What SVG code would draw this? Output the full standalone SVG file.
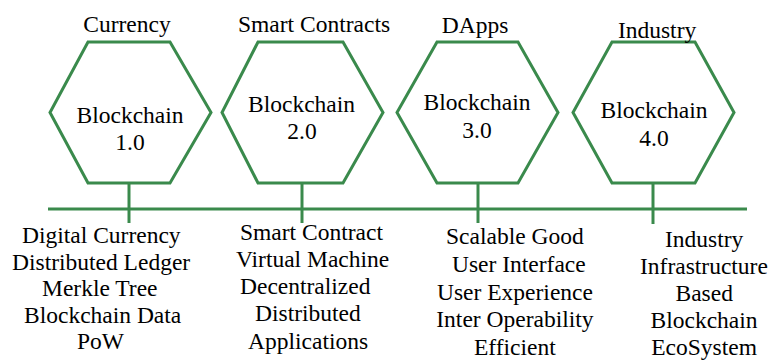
<svg xmlns="http://www.w3.org/2000/svg" width="771" height="361" viewBox="0 0 771 361">
<rect width="771" height="361" fill="#fff"/>
<g id="connectors" stroke="#3a8a4c" stroke-width="3" fill="none">
<line x1="48" y1="209" x2="747" y2="209"/>
<line x1="129" y1="183" x2="129" y2="223"/>
<line x1="302" y1="183" x2="302" y2="223"/>
<line x1="478" y1="183" x2="478" y2="223"/>
<line x1="653" y1="183" x2="653" y2="224"/>
</g>
<g id="node1">
<polygon points="88,42 170,42 211,112.5 170,183 88,183 50,112.5" fill="#fff" stroke="#3a8a4c" stroke-width="3"/>
<text x="83.3" y="32" font-family="Liberation Serif" font-size="23.5">Currency</text>
<text x="76.5" y="123" font-family="Liberation Serif" font-size="23.5">Blockchain</text>
<text x="115.3" y="150" font-family="Liberation Serif" font-size="23.5">1.0</text>
<text x="22" y="243" font-family="Liberation Serif" font-size="23.5">Digital Currency</text>
<text x="12" y="270" font-family="Liberation Serif" font-size="23.5">Distributed Ledger</text>
<text x="42" y="296" font-family="Liberation Serif" font-size="23.5">Merkle Tree</text>
<text x="24" y="323" font-family="Liberation Serif" font-size="23.5">Blockchain Data</text>
<text x="77" y="349" font-family="Liberation Serif" font-size="23.5">PoW</text>
</g>
<g id="node2">
<polygon points="258,42 343,42 383,112.5 343,183 258,183 222,112.5" fill="#fff" stroke="#3a8a4c" stroke-width="3"/>
<text x="238" y="32" font-family="Liberation Serif" font-size="23.5">Smart Contracts</text>
<text x="248" y="112" font-family="Liberation Serif" font-size="23.5">Blockchain</text>
<text x="287.3" y="139" font-family="Liberation Serif" font-size="23.5">2.0</text>
<text x="240" y="240" font-family="Liberation Serif" font-size="23.5">Smart Contract</text>
<text x="236" y="267" font-family="Liberation Serif" font-size="23.5">Virtual Machine</text>
<text x="240" y="294" font-family="Liberation Serif" font-size="23.5">Decentralized</text>
<text x="255" y="321" font-family="Liberation Serif" font-size="23.5">Distributed</text>
<text x="248" y="349" font-family="Liberation Serif" font-size="23.5">Applications</text>
</g>
<g id="node3">
<polygon points="437,42 518,42 558,112.5 518,183 437,183 397,112.5" fill="#fff" stroke="#3a8a4c" stroke-width="3"/>
<text x="441.7" y="33" font-family="Liberation Serif" font-size="23.5">DApps</text>
<text x="423.5" y="110" font-family="Liberation Serif" font-size="23.5">Blockchain</text>
<text x="462.3" y="138" font-family="Liberation Serif" font-size="23.5">3.0</text>
<text x="446" y="244" font-family="Liberation Serif" font-size="23.5">Scalable Good</text>
<text x="452" y="272" font-family="Liberation Serif" font-size="23.5">User Interface</text>
<text x="437" y="300" font-family="Liberation Serif" font-size="23.5">User Experience</text>
<text x="436.3" y="327" font-family="Liberation Serif" font-size="23.5">Inter Operability</text>
<text x="473.9" y="355" font-family="Liberation Serif" font-size="23.5">Efficient</text>
</g>
<g id="node4">
<polygon points="612,42 695,42 734,112.5 695,183 612,183 573,112.5" fill="#fff" stroke="#3a8a4c" stroke-width="3"/>
<text x="617.9" y="38" font-family="Liberation Serif" font-size="23.5">Industry</text>
<text x="600.5" y="118" font-family="Liberation Serif" font-size="23.5">Blockchain</text>
<text x="639.3" y="146" font-family="Liberation Serif" font-size="23.5">4.0</text>
<text x="665" y="247" font-family="Liberation Serif" font-size="23.5">Industry</text>
<text x="640" y="274" font-family="Liberation Serif" font-size="23.5">Infrastructure</text>
<text x="675.5" y="301" font-family="Liberation Serif" font-size="23.5">Based</text>
<text x="650.5" y="328" font-family="Liberation Serif" font-size="23.5">Blockchain</text>
<text x="651.2" y="355" font-family="Liberation Serif" font-size="23.5">EcoSystem</text>
</g>
</svg>
